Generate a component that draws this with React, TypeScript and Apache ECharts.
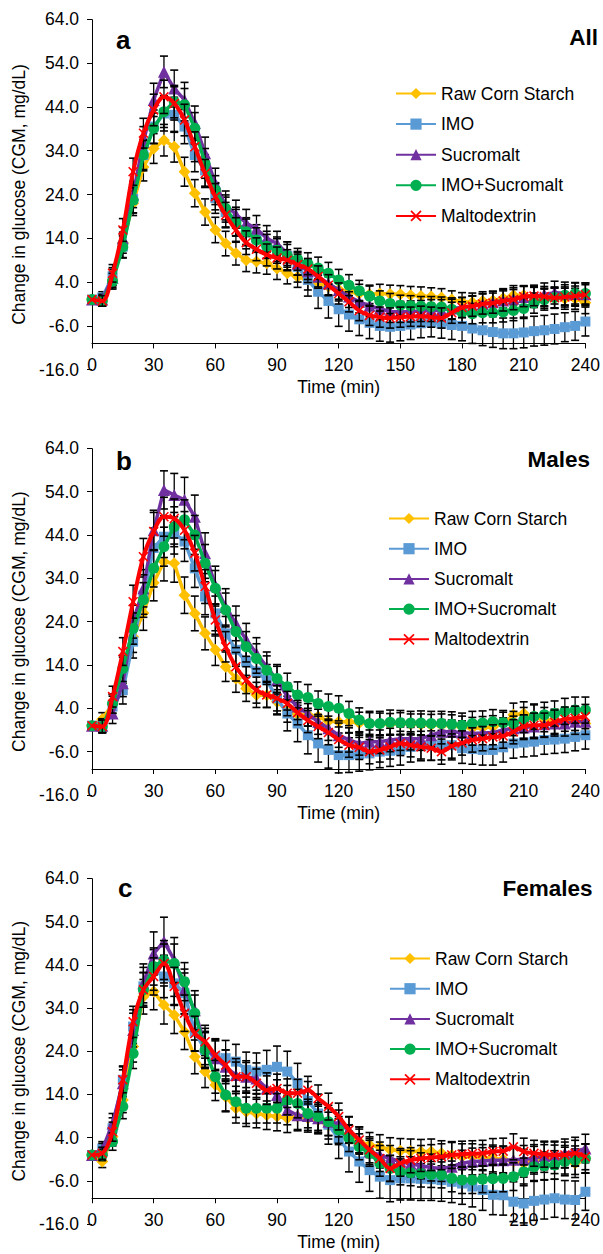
import React, { useEffect, useRef } from 'react';
import * as echarts from 'echarts';

const TIME_MIN = [
  0, 5, 10, 15, 20, 25, 30, 35, 40, 45,
  50, 55, 60, 65, 70, 75, 80, 85, 90, 95,
  100, 105, 110, 115, 120, 125, 130, 135, 140, 145,
  150, 155, 160, 165, 170, 175, 180, 185, 190, 195,
  200, 205, 210, 215, 220, 225, 230, 235, 240,
];

const SERIES_NAMES = ['Raw Corn Starch', 'IMO', 'Sucromalt', 'IMO+Sucromalt', 'Maltodextrin'];
const PANEL_LETTERS = ['a', 'b', 'c'];
const PANEL_TITLES = ['All', 'Males', 'Females'];
const Y_AXIS_NAME = 'Change in glucose (CGM, mg/dL)';
const X_AXIS_NAME = 'Time (min)';
const Y_MIN = -16;
const Y_MAX = 64;
const Y_STEP = 10;
const X_MIN = 0;
const X_MAX = 240;
const X_STEP = 30;
const X_AXIS_CROSS = -10;

// ---- Panel a: All ----
const RCS_ALL = [
  0, -0.3, 4.5, 13, 22, 30.3, 34.5, 36.4, 34.9, 29.2,
  24.3, 20, 15.9, 12.8, 10.6, 9, 8.7, 8.3, 7.1, 6,
  5.2, 4.5, 3.8, 3, 2.3, 1.8, 1.4, 1.2, 1.4, 1.3,
  1.2, 1, 0.8, 0.7, 0.5, 0, -0.5, -0.6, -0.3, -0.2,
  0.3, 1, 1, 0.5, 0.3, 0.3, 0.2, 0.2, -0.7,
];
const IMO_ALL = [
  0, 0.5, 5.3, 12.1, 23, 33, 39.5, 42.5, 42.2, 39.5,
  33, 29.5, 23.2, 20, 17.8, 15.5, 14, 12.5, 11.3, 10,
  7.5, 4.5, 1.8, -0.3, -2.2, -3.4, -4.5, -5.3, -6, -6.2,
  -6, -5.7, -5.4, -5.2, -5.5, -5.8, -6, -6.6, -7, -7.4,
  -7.7, -7.7, -7.5, -7.2, -7, -6.7, -6.3, -6, -5,
];
const SUC_ALL = [
  0, 0, 5, 14, 24, 36, 45.6, 52, 48.2, 45.6,
  40.3, 33.4, 26.5, 21.5, 19.5, 17.5, 16.2, 14, 12.8, 10.5,
  8.2, 6.5, 5.2, 3.7, 2.2, 0.7, -0.5, -1.4, -2.1, -2.7,
  -2.8, -2.7, -2.6, -2.5, -2.4, -2, -1.8, -1.5, -1, -0.6,
  -0.2, 0.2, 0.6, 0.8, 1.2, 1.6, 1.4, 1.3, 1.2,
];
const IMOSUC_ALL = [
  0, -0.3, 4.2, 12, 22.7, 33, 39.1, 42.9, 45.2, 44.5,
  39.1, 31.1, 25, 20.8, 17.6, 15.5, 13.6, 12.2, 11.3, 10,
  9.2, 8.2, 7.2, 6, 4.5, 3.3, 2, 0.8, -0.3, -0.9,
  -1.3, -1.4, -1.5, -1.6, -1.7, -2.2, -2.9, -3.2, -3, -3,
  -2.8, -2.5, -2, -0.8, 0, 0.5, 1, 1.4, 1.4,
];
const MALTO_ALL = [
  0, -0.3, 6, 15.9, 29.2, 38, 43.3, 46.3, 44.8, 41,
  34.9, 28.8, 23.5, 19.3, 15.9, 13, 11.5, 10.2, 9.5, 9,
  8, 7, 5.3, 3.3, 1.4, -0.5, -2.5, -3.6, -4, -4.2,
  -4, -3.9, -3.8, -4, -4.2, -3, -1.8, -1.5, -1, -0.8,
  -0.3, 0, 0.7, 0.8, 0.7, 0.4, 0.6, 0.8, 1.1,
];
const RCS_ALL_SE = [
  0, 1.2, 1.8, 2.4, 2.8, 3.2, 3.4, 3.6, 3.5, 3.3,
  3.1, 3, 2.9, 2.8, 2.7, 2.6, 2.6, 2.5, 2.5, 2.4,
  2.4, 2.3, 2.3, 2.2, 2.2, 2.2, 2.1, 2.1, 2.1, 2,
  2, 2, 2.1, 2, 2, 2, 2.1, 2.1, 2.1, 2.1,
  2.2, 2.2, 2.2, 2.3, 2.3, 2.3, 2.4, 2.4, 2.5,
];
const IMO_ALL_SE = [
  0, 1.3, 2, 2.6, 3.2, 3.6, 3.8, 4, 4, 3.9,
  3.8, 3.6, 3.5, 3.4, 3.3, 3.2, 3.1, 3.1, 3, 3.2,
  3.5, 3.7, 3.8, 3.9, 3.9, 3.8, 3.7, 3.6, 3.5, 3.5,
  3.4, 3.4, 3.3, 3.3, 3.3, 3.3, 3.4, 3.4, 3.5, 3.5,
  3.5, 3.5, 3.5, 3.4, 3.4, 3.4, 3.3, 3.3, 3.3,
];
const SUC_ALL_SE = [
  0, 1.2, 1.9, 2.5, 3, 3.5, 3.8, 3.6, 4.2, 4,
  3.9, 3.7, 3.5, 3.3, 3.2, 3.1, 3, 2.9, 2.8, 2.7,
  2.6, 2.6, 2.6, 2.6, 2.5, 2.5, 2.5, 2.5, 2.5, 2.5,
  2.4, 2.4, 2.4, 2.5, 2.4, 2.4, 2.3, 2.4, 2.4, 2.5,
  2.5, 2.5, 2.5, 2.5, 2.6, 2.6, 2.6, 2.6, 2.6,
];
const IMOSUC_ALL_SE = [
  0, 1.1, 1.8, 2.4, 2.9, 3.3, 3.5, 3.6, 3.7, 3.7,
  3.6, 3.4, 3.3, 3.1, 3, 2.9, 2.8, 2.7, 2.6, 2.6,
  2.5, 2.5, 2.5, 2.5, 2.4, 2.4, 2.4, 2.3, 2.3, 2.3,
  2.3, 2.3, 2.2, 2.3, 2.3, 2.3, 2.4, 2.3, 2.3, 2.3,
  2.3, 2.3, 2.3, 2.3, 2.4, 2.4, 2.4, 2.4, 2.4,
];
const MALTO_ALL_SE = [
  0, 1.2, 2, 2.6, 3.1, 3.4, 3.6, 3.8, 3.8, 3.6,
  3.4, 3.2, 3, 2.9, 2.8, 2.7, 2.6, 2.5, 2.5, 2.4,
  2.4, 2.4, 2.4, 2.4, 2.4, 2.3, 2.3, 2.3, 2.3, 2.3,
  2.3, 2.2, 2.3, 2.3, 2.3, 2.4, 2.3, 2.3, 2.3, 2.3,
  2.3, 2.3, 2.3, 2.2, 2.3, 2.3, 2.3, 2.3, 2.3,
];

// ---- Panel b: Males ----
const RCS_MALE = [
  0, 1.5, 5, 12.8, 20.5, 26, 33, 37.8, 37.5, 30.1,
  25.9, 21.3, 17.5, 13.6, 10.9, 8.6, 7.1, 7, 5.5, 3.5,
  2.6, 2.5, 2.1, 1, 0.9, 0.9, 0.6, 0.5, 0.4, 0.3,
  0.5, 0.3, 0.2, 0.1, 0.1, 0, -0.3, -0.6, -0.5, -0.3,
  0.5, 2.5, 2.8, 2.1, 1.4, 1, 0.6, 1.3, 0.5,
];
const IMO_MALE = [
  0, 0, 4.4, 8.2, 19.4, 30, 41, 43.6, 44.4, 42.5,
  36.3, 29.8, 25.9, 21.3, 17.5, 14.8, 12.5, 10.5, 6.3, 2.8,
  0.5, -2.2, -4.1, -5.6, -6.8, -6.8, -6.6, -6.4, -6, -5.8,
  -5.6, -4.9, -4.7, -4.6, -4.5, -4.5, -5.2, -5.4, -5.6, -5.6,
  -5, -4.1, -3.9, -3.7, -3.3, -3.2, -3, -2.6, -2.2,
];
const SUC_MALE = [
  0, 0, 2.8, 9.8, 24, 31.7, 45.1, 54.4, 53.2, 52.1,
  48.2, 39.8, 32.4, 27.4, 23.6, 19.8, 16.7, 13.6, 10.5, 6.7,
  4.4, 2.8, 0.9, -0.6, -2.2, -3.3, -4.1, -3.7, -3.7, -3.3,
  -3, -3, -3, -2.2, -1.4, -1.4, -1.6, -1.8, -1.7, -1.6,
  -1, -0.6, -0.4, -0.2, 0.3, 0.5, 0.5, 0.9, 0.9,
];
const IMOSUC_MALE = [
  0, -0.2, 5.1, 13.2, 22.4, 29, 36.3, 41.3, 45.9, 47.5,
  44, 37.5, 31.7, 26.7, 21.7, 18.2, 15.5, 12.8, 10.9, 9,
  7.1, 6.5, 5.1, 4.4, 4, 2.8, 1.3, 0.5, 0.5, 0.8,
  0.7, 0.6, 0.6, 0.5, 0.5, 0.3, 0.1, 0.5, 0.6, 0.9,
  0.7, 0.5, 1.3, 2.1, 2.5, 2.8, 3.3, 3.6, 3.6,
];
const MALTO_MALE = [
  0, -0.2, 6.7, 17.1, 28.6, 39, 44.8, 48.2, 47.8, 45.1,
  39.8, 32.1, 24.4, 18.2, 13.6, 10.5, 8.2, 7.1, 6.3, 5.1,
  3, 1.2, -0.2, -1.6, -3.2, -4.5, -5, -6, -5.6, -4.9,
  -4.1, -4.5, -4.9, -5.2, -6, -4.7, -4, -3.3, -3, -2.6,
  -2.4, -1.4, -0.2, 0.1, 0.1, 0.8, 1.5, 1.7, 2.1,
];
const RCS_MALE_SE = [
  0, 1.5, 2.2, 3, 3.6, 4, 4.2, 4.4, 4.4, 4.2,
  4, 3.8, 3.6, 3.4, 3.2, 3, 2.9, 2.8, 2.8, 2.7,
  2.7, 2.6, 2.6, 2.6, 2.6, 2.5, 2.5, 2.5, 2.5, 2.5,
  2.5, 2.4, 2.5, 2.5, 2.6, 2.5, 2.5, 2.5, 2.6, 2.6,
  2.6, 2.7, 2.7, 2.7, 2.8, 2.8, 2.8, 2.9, 2.9,
];
const IMO_MALE_SE = [
  0, 1.6, 2.4, 3.2, 3.8, 4.3, 4.6, 4.8, 4.8, 4.6,
  4.4, 4.2, 4, 3.9, 3.8, 3.7, 3.6, 3.6, 3.8, 4,
  4.2, 4.3, 4.3, 4.2, 4.1, 4, 3.9, 3.8, 3.7, 3.6,
  3.5, 3.5, 3.4, 3.4, 3.4, 3.4, 3.5, 3.5, 3.5, 3.5,
  3.4, 3.4, 3.3, 3.3, 3.3, 3.2, 3.2, 3.2, 3.2,
];
const SUC_MALE_SE = [
  0, 1.5, 2.3, 3.1, 3.8, 4.3, 4.6, 4.4, 5, 5.2,
  5, 4.7, 4.4, 4.2, 4, 3.8, 3.6, 3.4, 3.2, 3.1,
  3, 2.9, 2.9, 2.8, 2.8, 2.8, 2.7, 2.7, 2.7, 2.7,
  2.7, 2.6, 2.7, 2.7, 2.8, 2.7, 2.7, 2.7, 2.7, 2.8,
  2.8, 2.8, 2.8, 2.8, 2.9, 2.9, 2.9, 2.9, 2.9,
];
const IMOSUC_MALE_SE = [
  0, 1.4, 2.2, 3, 3.6, 4, 4.3, 4.5, 4.6, 4.6,
  4.5, 4.3, 4.1, 3.9, 3.7, 3.5, 3.4, 3.3, 3.2, 3.1,
  3, 3, 2.9, 2.9, 2.9, 2.8, 2.8, 2.8, 2.8, 2.8,
  2.8, 2.7, 2.8, 2.8, 2.8, 2.9, 2.8, 2.8, 2.8, 2.8,
  2.8, 2.8, 2.9, 2.9, 2.9, 2.9, 3, 3, 3,
];
const MALTO_MALE_SE = [
  0, 1.5, 2.4, 3.2, 3.8, 4.2, 4.4, 4.5, 4.5, 4.3,
  4.1, 3.9, 3.7, 3.5, 3.3, 3.1, 3, 2.9, 2.9, 2.8,
  2.8, 2.8, 2.8, 2.8, 2.9, 2.8, 2.8, 2.8, 2.8, 2.8,
  2.8, 2.7, 2.8, 2.8, 2.9, 2.8, 2.8, 2.8, 2.8, 2.8,
  2.8, 2.8, 2.7, 2.8, 2.8, 2.8, 2.8, 2.8, 2.8,
];

// ---- Panel c: Females ----
const RCS_FEMALE = [
  0, -1.5, 4.2, 12.7, 25.1, 36.6, 37.8, 34.7, 32.4, 28.5,
  22.7, 19.3, 16.2, 13.5, 10.8, 10, 9.6, 9.2, 8.9, 8.5,
  8.9, 8.5, 8.1, 6.8, 5.4, 3.9, 3.1, 2.3, 1.9, 1.2,
  1, 0.9, 0.8, 0.8, 0.4, 0, -0.4, -0.4, -0.6, -0.8,
  -1, -1.5, -1.9, -1.2, -0.8, -1, -1.1, -1.9, -0.8,
];
const IMO_FEMALE = [
  0, 1.5, 6.2, 17.4, 29.7, 39, 42.8, 41.3, 39.7, 37.4,
  28.5, 24.3, 22.7, 22.4, 21.6, 19.7, 19.3, 19.7, 20.4, 19.3,
  16.6, 12.5, 9.6, 7, 3.8, 0.8, -1.5, -3.5, -5, -5.8,
  -5.4, -5.4, -5.5, -5.6, -5.8, -6.2, -6.6, -7.3, -8.1, -9.2,
  -9.3, -10.8, -11.2, -10.6, -10.3, -10, -10.3, -10.4, -8.5,
];
const SUC_FEMALE = [
  0, 1.2, 7.3, 16.6, 28.9, 39.7, 46.6, 49.4, 45.1, 38.2,
  33.5, 25.1, 22.4, 20.4, 18.5, 18.1, 17.7, 15.4, 13.9, 10.4,
  9.2, 9, 8.5, 7.7, 7.3, 5.8, 3.5, 0.8, 0, -0.8,
  -1.5, -2, -2.5, -2.9, -3.1, -2.7, -1.9, -1.5, -1.4, -1.2,
  -1.2, -1.1, -1, -0.8, -0.2, 0, 0.4, 0.8, 1.5,
];
const IMOSUC_FEMALE = [
  0, 0, 3.1, 11.2, 23.5, 38.2, 43.6, 45.1, 44.3, 40.1,
  32.8, 24.3, 18.1, 13.9, 12.3, 10.8, 10.8, 10.8, 10.8, 12.7,
  11.9, 9.6, 8.9, 7.7, 5.8, 3.9, 1.9, 0.4, -1.9, -3.1,
  -3.9, -4.1, -4.3, -4.5, -4.6, -5.4, -5.8, -5.8, -5.6, -5.5,
  -5.4, -5, -3.9, -2.7, -2.5, -2.3, -1.5, -1.2, -0.8,
];
const MALTO_FEMALE = [
  0, 0.4, 5.4, 17.4, 30.8, 38.2, 41.3, 44.3, 39, 32.8,
  28.1, 26.2, 23.1, 20.8, 18.1, 18.1, 16.6, 15, 15.4, 14.3,
  14.3, 15, 13.1, 11.2, 8.9, 5.8, 3.5, 1.2, -0.8, -3.1,
  -1.9, -1.2, -0.8, -0.6, -0.4, 0, 0.2, 0.3, 0.4, 0.8,
  0.9, 1.9, 0.8, 0.4, 0.2, 0, 0, 0.4, -0.4,
];
const RCS_FEMALE_SE = [
  0, 1.4, 2.1, 2.9, 3.6, 4, 4.2, 4.4, 4.3, 4.1,
  3.9, 3.7, 3.6, 3.5, 3.4, 3.4, 3.3, 3.3, 3.3, 3.3,
  3.3, 3.2, 3.2, 3.1, 3, 3, 2.9, 2.9, 2.8, 2.8,
  2.8, 2.8, 2.8, 2.9, 2.9, 2.9, 3, 3, 3, 3.1,
  3.1, 3.1, 3.2, 3.2, 3.2, 3.3, 3.3, 3.3, 3.4,
];
const IMO_FEMALE_SE = [
  0, 1.6, 2.4, 3.2, 3.9, 4.4, 4.7, 4.9, 4.9, 4.7,
  4.5, 4.3, 4.2, 4.1, 4, 4.1, 4.3, 4.5, 4.8, 4.7,
  4.6, 4.5, 4.5, 4.5, 4.6, 4.7, 4.8, 4.9, 5, 5,
  5, 5, 5, 4.9, 4.9, 4.8, 4.8, 4.7, 4.7, 4.6,
  4.6, 4.6, 4.5, 4.5, 4.5, 4.4, 4.4, 4.4, 4.3,
];
const SUC_FEMALE_SE = [
  0, 1.5, 2.3, 3.1, 3.9, 4.5, 5, 5.6, 5.2, 4.8,
  4.5, 4.2, 4, 3.9, 3.8, 3.7, 3.6, 3.6, 3.5, 3.4,
  3.3, 3.3, 3.2, 3.2, 3.1, 3.1, 3, 3, 3, 3,
  3, 3, 3, 3.1, 3, 3, 3, 3.1, 3.1, 3.1,
  3.1, 3.1, 3.2, 3.2, 3.2, 3.2, 3.3, 3.3, 3.3,
];
const IMOSUC_FEMALE_SE = [
  0, 1.3, 2, 2.8, 3.5, 4, 4.3, 4.5, 4.5, 4.4,
  4.2, 4, 3.8, 3.7, 3.6, 3.5, 3.4, 3.4, 3.4, 3.4,
  3.3, 3.3, 3.2, 3.2, 3.1, 3.1, 3, 3, 3, 3,
  3, 3, 3.1, 3, 3, 3.1, 3.1, 3.1, 3.1, 3.1,
  3.1, 3.2, 3.2, 3.2, 3.2, 3.3, 3.3, 3.3, 3.3,
];
const MALTO_FEMALE_SE = [
  0, 1.4, 2.2, 3, 3.6, 4, 4.3, 4.5, 4.4, 4.2,
  4, 3.8, 3.6, 3.5, 3.4, 3.3, 3.3, 3.3, 3.3, 3.3,
  3.2, 3.2, 3.1, 3.1, 3.1, 3, 3, 3, 3, 3,
  3, 2.9, 3, 3, 3, 3.1, 3, 3, 3, 3,
  3, 3, 3.1, 3, 3, 3, 3, 3, 3,
];

const PANEL_VALUES = [
  [RCS_ALL, IMO_ALL, SUC_ALL, IMOSUC_ALL, MALTO_ALL],
  [RCS_MALE, IMO_MALE, SUC_MALE, IMOSUC_MALE, MALTO_MALE],
  [RCS_FEMALE, IMO_FEMALE, SUC_FEMALE, IMOSUC_FEMALE, MALTO_FEMALE],
];
const PANEL_ERRORS = [
  [RCS_ALL_SE, IMO_ALL_SE, SUC_ALL_SE, IMOSUC_ALL_SE, MALTO_ALL_SE],
  [RCS_MALE_SE, IMO_MALE_SE, SUC_MALE_SE, IMOSUC_MALE_SE, MALTO_MALE_SE],
  [RCS_FEMALE_SE, IMO_FEMALE_SE, SUC_FEMALE_SE, IMOSUC_FEMALE_SE, MALTO_FEMALE_SE],
];

// ---- styling / layout ----
const FONT = 'Liberation Sans, Arial, Helvetica, sans-serif';
const COLORS = ['#FFC000', '#5B9BD5', '#7030A0', '#00B050', '#FF0000'];
const X_MARK = 'path://M0,1.1 L1.1,0 L5,3.9 L8.9,0 L10,1.1 L6.1,5 L10,8.9 L8.9,10 L5,6.1 L1.1,10 L0,8.9 L3.9,5 Z';
const SYMBOLS = ['diamond', 'rect', 'triangle', 'circle', X_MARK];
const SYMBOL_SIZES = [12, 10, 12, 11, 10];
const LINE_WIDTHS = [3.5, 3.5, 3.5, 3.5, 4];
const GRID_LEFT = 92;
const GRID_WIDTH = 494;
const LAYOUT = [
  { top: 19.3, height: 350.4, legendLeft: 395, legendTop: 84.5, legendGap: 12.6, letterX: 116, letterY: 39.5, titleX: 598, titleY: 37.5 },
  { top: 448.3, height: 346.7, legendLeft: 388, legendTop: 509.5, legendGap: 12.2, letterX: 116, letterY: 461, titleX: 590, titleY: 459 },
  { top: 878.3, height: 345.9, legendLeft: 389, legendTop: 949.5, legendGap: 12.2, letterX: 118, letterY: 888, titleX: 592.5, titleY: 888 },
];

function renderErrorBar(params: any, api: any) {
  const t = api.value(0);
  const v = api.value(1);
  const e = api.value(2);
  if (!e) return null;
  const hi = api.coord([t, v + e]);
  const lo = api.coord([t, v - e]);
  const w = 4;
  const barStyle = { stroke: '#000', lineWidth: 1.3 };
  const capStyle = { stroke: '#000', lineWidth: 1.6 };
  return {
    type: 'group',
    children: [
      { type: 'line', shape: { x1: hi[0], y1: hi[1], x2: lo[0], y2: lo[1] }, style: barStyle },
      { type: 'line', shape: { x1: hi[0] - w, y1: hi[1], x2: hi[0] + w, y2: hi[1] }, style: capStyle },
      { type: 'line', shape: { x1: lo[0] - w, y1: lo[1], x2: lo[0] + w, y2: lo[1] }, style: capStyle },
    ],
  };
}

function buildOption() {
  const grid: any[] = [];
  const xAxis: any[] = [];
  const yAxis: any[] = [];
  const legend: any[] = [];
  const series: any[] = [];
  const graphic: any[] = [];

  LAYOUT.forEach((L, p) => {
    grid.push({ left: GRID_LEFT, top: L.top, width: GRID_WIDTH, height: L.height, containLabel: false });
    const crossOffset = -((X_AXIS_CROSS - Y_MIN) / (Y_MAX - Y_MIN)) * L.height;
    xAxis.push({
      gridIndex: p,
      type: 'value',
      min: X_MIN,
      max: X_MAX,
      interval: X_STEP,
      position: 'bottom',
      offset: crossOffset,
      axisLine: { show: true, onZero: false, lineStyle: { color: '#000', width: 1 } },
      axisTick: { show: true, inside: false, length: 5, lineStyle: { color: '#000', width: 1 } },
      axisLabel: { show: true, margin: 13, fontSize: 17.5, color: '#000', fontFamily: FONT },
      splitLine: { show: false },
      name: X_AXIS_NAME,
      nameLocation: 'middle',
      nameGap: 35,
      nameTextStyle: { fontSize: 17.5, color: '#000', fontFamily: FONT },
    });
    yAxis.push({
      gridIndex: p,
      type: 'value',
      min: Y_MIN,
      max: Y_MAX,
      interval: Y_STEP,
      axisLine: { show: false, onZero: false },
      axisTick: { show: true, inside: false, length: 5, lineStyle: { color: '#000', width: 1 } },
      axisLabel: {
        show: true,
        margin: 13,
        fontSize: 17.5,
        color: '#000',
        fontFamily: FONT,
        formatter: (val: number) => val.toFixed(1),
      },
      splitLine: { show: false },
      name: Y_AXIS_NAME,
      nameLocation: 'middle',
      nameRotate: 90,
      nameGap: 61,
      nameTextStyle: { fontSize: 17.5, color: '#000', fontFamily: FONT },
    });
    legend.push({
      data: SERIES_NAMES,
      orient: 'vertical',
      left: L.legendLeft,
      top: L.legendTop,
      padding: 0,
      itemWidth: 40,
      itemHeight: 14,
      itemGap: L.legendGap,
      selectedMode: false,
      textStyle: { fontSize: 17.5, color: '#000', fontFamily: FONT },
    });

    SERIES_NAMES.forEach((name, k) => {
      const vals = PANEL_VALUES[p][k];
      const errs = PANEL_ERRORS[p][k];
      series.push({
        type: 'custom',
        name: name + ' SE ' + PANEL_LETTERS[p],
        xAxisIndex: p,
        yAxisIndex: p,
        renderItem: renderErrorBar,
        encode: { x: 0, y: 1 },
        data: TIME_MIN.map((t, i) => [t, vals[i], errs[i]]),
        z: 2 + 2 * k,
        silent: true,
        clip: false,
      });
      const s: any = {
        type: 'line',
        name,
        xAxisIndex: p,
        yAxisIndex: p,
        data: TIME_MIN.map((t, i) => [t, vals[i]]),
        symbol: SYMBOLS[k],
        symbolSize: SYMBOL_SIZES[k],
        showSymbol: true,
        smooth: k === 4 ? 0.35 : false,
        lineStyle: { color: COLORS[k], width: LINE_WIDTHS[k] },
        itemStyle: { color: COLORS[k], borderWidth: 0 },
        z: 3 + 2 * k,
        clip: false,
        silent: true,
      };
      if (k === 0) {
        s.markLine = {
          silent: true,
          symbol: ['none', 'none'],
          label: { show: false },
          lineStyle: { color: '#000', width: 1, type: 'solid' },
          data: [[{ coord: [X_MIN, X_AXIS_CROSS] }, { coord: [X_MIN, Y_MAX] }]],
        };
      }
      series.push(s);
    });

    graphic.push({
      type: 'text',
      x: L.letterX,
      y: L.letterY,
      z: 100,
      style: {
        text: PANEL_LETTERS[p],
        fontSize: 26,
        fontWeight: 'bold',
        fontFamily: FONT,
        fill: '#000',
        textAlign: 'left',
        textVerticalAlign: 'middle',
        align: 'left',
        verticalAlign: 'middle',
      },
    });
    graphic.push({
      type: 'text',
      x: L.titleX,
      y: L.titleY,
      z: 100,
      style: {
        text: PANEL_TITLES[p],
        fontSize: 22.5,
        fontWeight: 'bold',
        fontFamily: FONT,
        fill: '#000',
        textAlign: 'right',
        textVerticalAlign: 'middle',
        align: 'right',
        verticalAlign: 'middle',
      },
    });
  });

  return {
    animation: false,
    backgroundColor: '#fff',
    textStyle: { fontFamily: FONT },
    grid,
    xAxis,
    yAxis,
    legend,
    series,
    graphic,
  };
}

export default function App() {
  const ref = useRef<HTMLDivElement>(null);
  useEffect(() => {
    if (!ref.current) return;
    const chart = echarts.init(ref.current, null, { renderer: 'svg' });
    chart.setOption(buildOption() as any);
    return () => chart.dispose();
  }, []);
  return (
    <div
      ref={ref}
      style={{ position: 'absolute', left: 0, top: 0, width: 603, height: 1254, background: '#fff' }}
    />
  );
}
